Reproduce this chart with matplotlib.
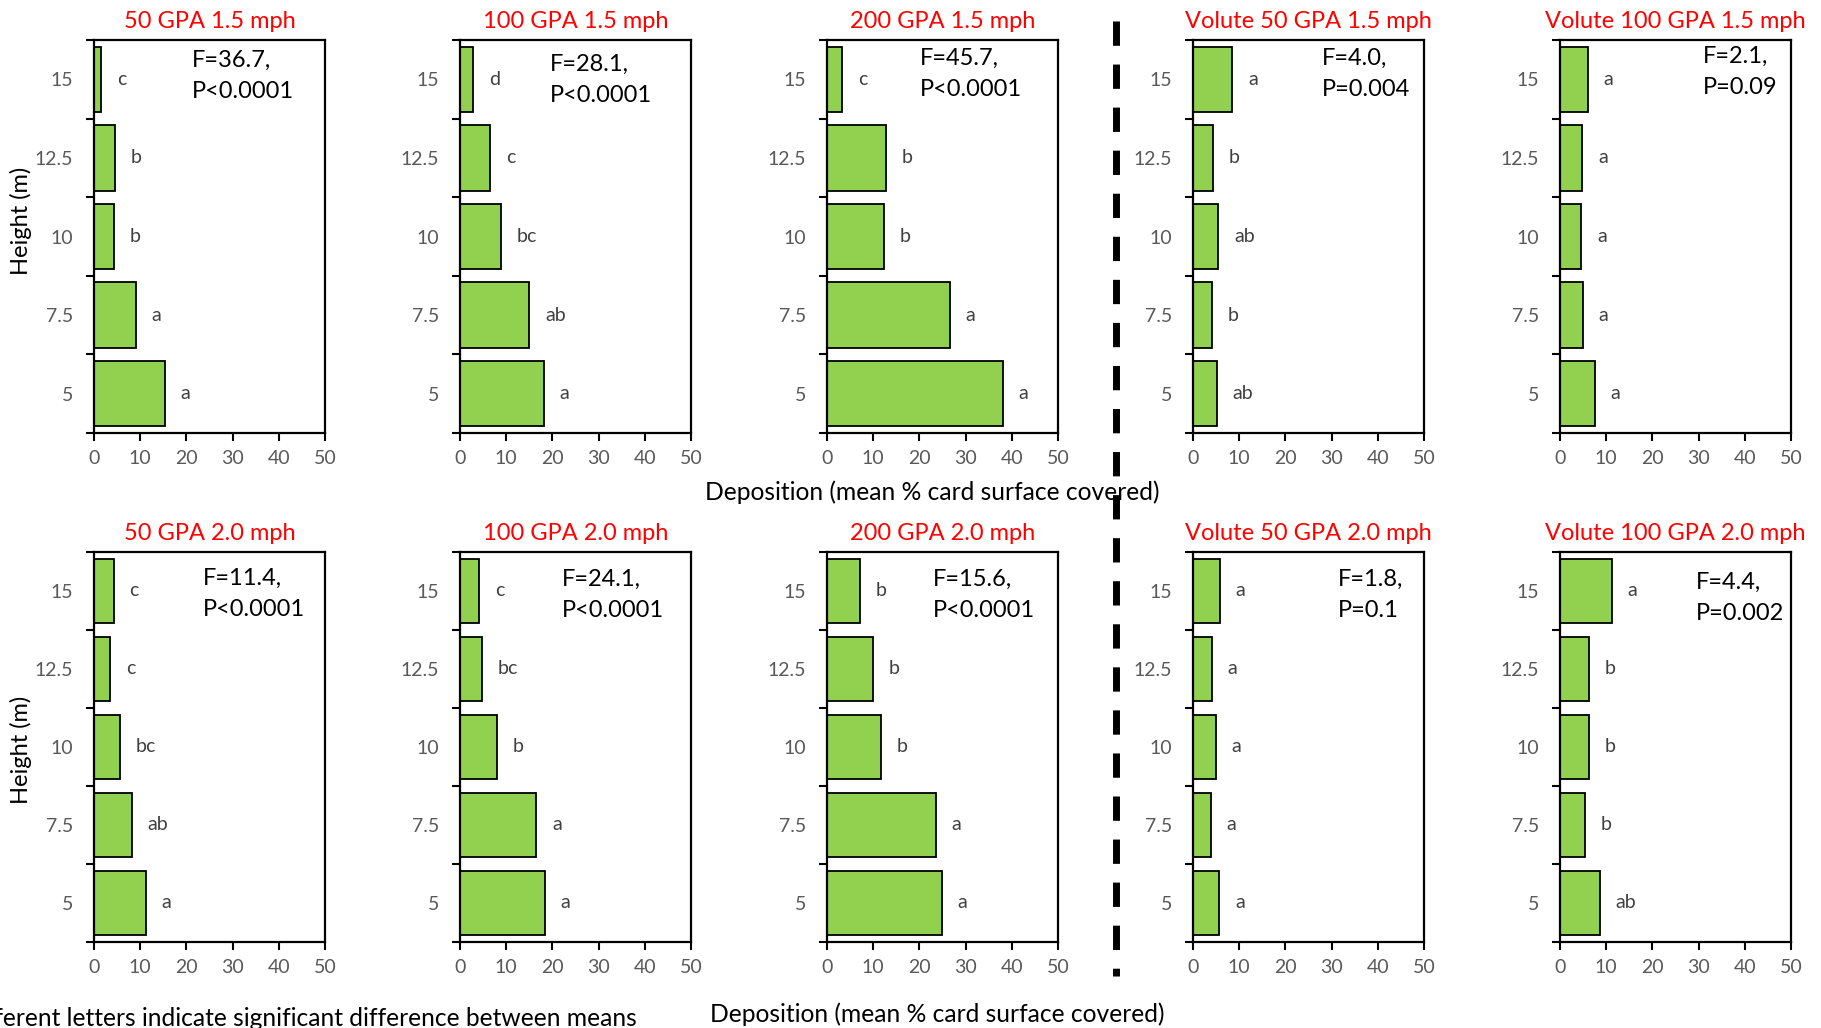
import numpy as np
import matplotlib
matplotlib.use('Agg')
import matplotlib.pyplot as plt
from matplotlib.lines import Line2D

plt.rcParams['font.family'] = ['Lato', 'DejaVu Sans']

# Heights on the tower (bottom to top)
heights = ['5', '7.5', '10', '12.5', '15']

# Panel titles, row by row
titles_top = ['50 GPA 1.5 mph', '100 GPA 1.5 mph', '200 GPA 1.5 mph',
              'Volute 50 GPA 1.5 mph', 'Volute 100 GPA 1.5 mph']
titles_bot = ['50 GPA 2.0 mph', '100 GPA 2.0 mph', '200 GPA 2.0 mph',
              'Volute 50 GPA 2.0 mph', 'Volute 100 GPA 2.0 mph']

# Mean % card surface covered at 5, 7.5, 10, 12.5, 15 m
dep_top = [
    [15.4, 9.1, 4.3, 4.5, 1.5],
    [18.1, 15.0, 8.8, 6.5, 2.9],
    [38.1, 26.6, 12.4, 12.8, 3.3],
    [5.2, 4.2, 5.5, 4.4, 8.5],
    [7.6, 5.0, 4.6, 4.8, 6.0],
]
dep_bot = [
    [11.2, 8.2, 5.6, 3.5, 4.3],
    [18.3, 16.5, 8.0, 4.8, 4.1],
    [24.9, 23.6, 11.7, 10.0, 7.1],
    [5.7, 3.8, 4.9, 4.1, 5.8],
    [8.6, 5.5, 6.3, 6.2, 11.2],
]

# Mean separation letters
let_top = [
    ['a', 'a', 'b', 'b', 'c'],
    ['a', 'ab', 'bc', 'c', 'd'],
    ['a', 'a', 'b', 'b', 'c'],
    ['ab', 'b', 'ab', 'b', 'a'],
    ['a', 'a', 'a', 'a', 'a'],
]
let_bot = [
    ['a', 'ab', 'bc', 'c', 'c'],
    ['a', 'a', 'b', 'bc', 'c'],
    ['a', 'a', 'b', 'b', 'b'],
    ['a', 'a', 'a', 'a', 'a'],
    ['ab', 'b', 'b', 'b', 'a'],
]

# ANOVA results
stats_top = ['F=36.7,\nP<0.0001', 'F=28.1,\nP<0.0001', 'F=45.7,\nP<0.0001',
             'F=4.0,\nP=0.004', 'F=2.1,\nP=0.09']
stats_bot = ['F=11.4,\nP<0.0001', 'F=24.1,\nP<0.0001', 'F=15.6,\nP<0.0001',
             'F=1.8,\nP=0.1', 'F=4.4,\nP=0.002']

# where the stats box sits inside each axes (x, y in axes fraction)
stat_pos_top = [(0.425, 0.976), (0.39, 0.964), (0.40, 0.98), (0.56, 0.98), (0.62, 0.985)]
stat_pos_bot = [(0.47, 0.96), (0.44, 0.957), (0.457, 0.957), (0.625, 0.957), (0.59, 0.95)]

W, H = 1821, 1028
lefts = [94, 460, 827, 1193, 1560]
ax_w = 231

GREEN = '#92D050'


def draw_panel(ax, vals, letters, title, stat, stat_xy):
    y = np.arange(len(heights))
    ax.barh(y, vals, height=0.83, color=GREEN, edgecolor='black', linewidth=1.3, zorder=2)
    for yi, v, l in zip(y, vals, letters):
        ax.text(v + 3.4, yi, l, ha='left', va='center', fontsize=14, color='#404040')
    ax.set_xlim(0, 50)
    ax.set_ylim(-0.5, len(heights) - 0.5)
    ax.set_xticks(np.arange(0, 51, 10))
    ax.set_yticks(y)
    ax.set_yticklabels(heights)
    ax.set_yticks(np.arange(-0.5, len(heights), 1.0), minor=True)
    ax.tick_params(axis='y', which='major', length=0, pad=15, labelsize=14, labelcolor='#595959')
    ax.tick_params(axis='y', which='minor', length=6, width=1.5, direction='out')
    ax.tick_params(axis='x', length=6, width=1.5, direction='out', pad=6,
                   labelsize=14, labelcolor='#595959')
    for s in ax.spines.values():
        s.set_linewidth(1.6)
    ax.set_title(title, color='red', fontsize=17, pad=9)
    ax.text(stat_xy[0], stat_xy[1], stat, transform=ax.transAxes, ha='left', va='top',
            fontsize=17, linespacing=1.6, color='black')


fig = plt.figure(figsize=(W / 100, H / 100), dpi=100)

rows = [
    (40, 393, 221, titles_top, dep_top, let_top, stats_top, stat_pos_top),
    (552, 390, 750, titles_bot, dep_bot, let_bot, stats_bot, stat_pos_bot),
]
for top, h, ylab_y, titles, deps, lets, stats, spos in rows:
    for i in range(5):
        ax = fig.add_axes([lefts[i] / W, 1 - (top + h) / H, ax_w / W, h / H])
        draw_panel(ax, deps[i], lets[i], titles[i], stats[i], spos[i])
    fig.text(21 / W, 1 - ylab_y / H, 'Height (m)', rotation=90,
             ha='center', va='center', fontsize=17)

fig.text(932 / W, 1 - 492 / H, 'Deposition (mean % card surface covered)',
         ha='center', va='center', fontsize=17.7)
fig.text(937 / W, 1 - 1014 / H, 'Deposition (mean % card surface covered)',
         ha='center', va='center', fontsize=17.7)
fig.text(637 / W, 1 - 1018 / H, 'Different letters indicate significant difference between means',
         ha='right', va='center', fontsize=17.7)

# dashed divider between conventional and volute nozzles
fig.add_artist(Line2D([1116 / W, 1116 / W], [1 - 21 / H, 1 - 976 / H],
                      transform=fig.transFigure, color='black', linewidth=5,
                      linestyle=(0, (3.5, 2.7))))

fig.savefig('out.png', dpi=100)
